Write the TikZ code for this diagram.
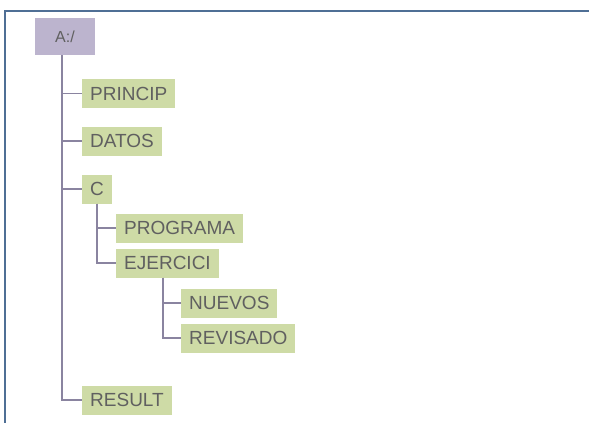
\documentclass[tikz,border=0pt]{standalone}
\usepackage{fontspec}
\setmainfont{Liberation Sans}
\definecolor{frame}{HTML}{4F6F95}
\definecolor{leaf}{HTML}{CEDBA6}
\definecolor{root}{HTML}{BCB4CE}
\definecolor{conn}{HTML}{8A84A0}
\definecolor{txt}{HTML}{606060}
\begin{document}
\begin{tikzpicture}[x=1pt,y=-1pt,
  item/.style={anchor=west,fill=leaf,text=txt,inner xsep=8pt,inner ysep=0pt,minimum height=29pt,font=\fontsize{19}{19}\selectfont},
  rootbox/.style={fill=root,text=txt,minimum width=60pt,minimum height=37pt,inner sep=0pt,font=\fontsize{16}{16}\selectfont},
  link/.style={draw=conn,line width=1.3pt}]
\useasboundingbox (0,0) rectangle (589,423);
\fill[white] (0,0) rectangle (589,423);
\draw[frame,line width=2.5pt] (5,423) -- (5,11) -- (589,11);
\node[rootbox] (A) at (65,36.5) {A:/};
\node[item] (PRINCIP) at (82,93.5) {PRINCIP};
\node[item] (DATOS) at (82,141) {DATOS};
\node[item] (C) at (82,189) {C};
\node[item] (PROGRAMA) at (116,228) {PROGRAMA};
\node[item] (EJERCICI) at (116,263) {EJERCICI};
\node[item] (NUEVOS) at (181,303) {NUEVOS};
\node[item] (REVISADO) at (181,338) {REVISADO};
\node[item] (RESULT) at (82,400) {RESULT};
\coordinate (t) at (62,55);
\coordinate (e) at (163,277.5);
\draw[link] (t) |- (RESULT.west);
\draw[link] (t |- PRINCIP.west) -- (PRINCIP.west);
\draw[link] (t |- DATOS.west) -- (DATOS.west);
\draw[link] (t |- C.west) -- (C.west);
\draw[link] (C.south) |- (PROGRAMA.west);
\draw[link] (C.south) |- (EJERCICI.west);
\draw[link] (e) |- (NUEVOS.west);
\draw[link] (e) |- (REVISADO.west);
\end{tikzpicture}
\end{document}
